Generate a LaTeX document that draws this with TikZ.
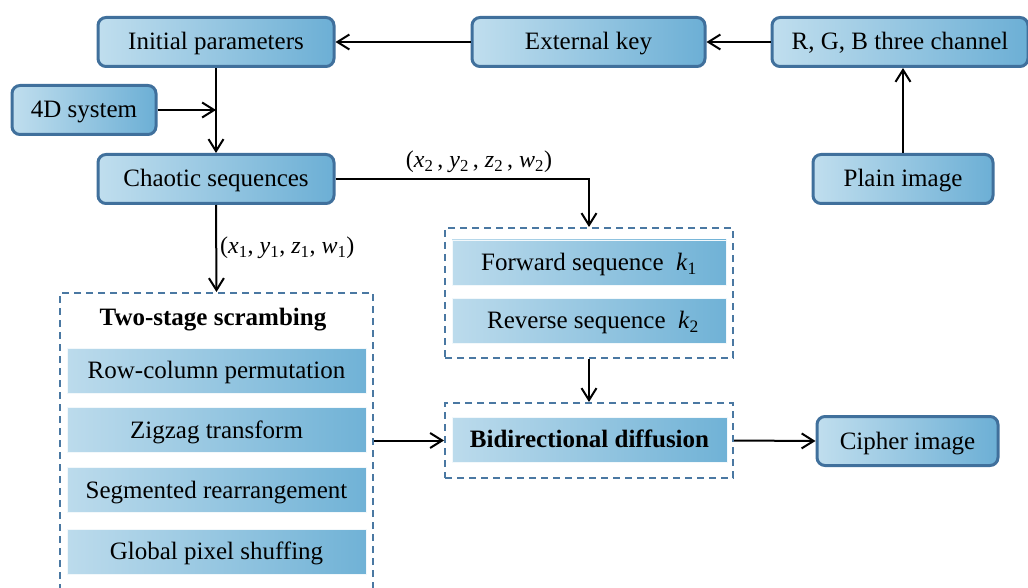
\documentclass[tikz,border=0pt]{standalone}
\usepackage{fontspec}
\setmainfont{Liberation Serif}
\usetikzlibrary{arrows.meta}
\definecolor{blkleft}{RGB}{192,222,238}
\definecolor{blkright}{RGB}{108,175,213}
\definecolor{blkdraw}{RGB}{64,112,156}
\definecolor{stgleft}{RGB}{188,219,236}
\definecolor{stgright}{RGB}{112,178,214}
\definecolor{grpdraw}{RGB}{74,120,162}
\newcommand{\vsub}[2]{\textit{#1}\textsubscript{#2}}

\begin{document}
\begin{tikzpicture}[
  x=1pt, y=-1pt,
  font=\fontsize{25}{29}\selectfont,
  blk/.style={rectangle, rounded corners=8pt, draw=blkdraw, line width=3pt,
              left color=blkleft, right color=blkright, inner sep=0pt,
              minimum height=49pt, text height=18pt, text depth=2pt},
  stage/.style={rectangle, draw=white!80!stgleft, line width=0.8pt,
                left color=stgleft, right color=stgright, inner sep=0pt,
                minimum height=45pt, text height=18pt, text depth=2pt},
  grp/.style={rectangle, draw=grpdraw, dash pattern=on 7pt off 5pt,
              line width=2pt, inner sep=0pt},
  flow/.style={-{Straight Barb[length=12pt,width=15pt,line width=2pt]}, line width=2pt},
  lbl/.style={inner sep=0pt, font=\fontsize{24}{27}\selectfont}
]
\useasboundingbox (0,0) rectangle (1028,588);
% key and chaos blocks
\node[blk, minimum width=236pt] (init)   at (216,42)    {Initial parameters};
\node[blk, minimum width=233pt] (extkey) at (588.5,42)  {External key};
\node[blk, minimum width=256pt] (rgb)    at (900,42)    {R, G, B three channel};
\node[blk, minimum width=144pt] (fourd)  at (84,110)    {4D system};
\node[blk, minimum width=236pt] (chaos)  at (216,179)   {Chaotic sequences};
\node[blk, minimum width=180pt] (plain)  at (903,179)   {Plain image};
\node[blk, minimum width=181pt] (cipher) at (907.5,441) {Cipher image};
% dashed groups
\node[grp, minimum width=313pt, minimum height=307pt] (scram) at (216.5,446.5) {};
\node[grp, minimum width=288pt, minimum height=130pt] (seqs)  at (589,293)     {};
\node[grp, minimum width=288pt, minimum height=75pt]  (diff)  at (589,440.5)   {};
% scrambling stages
\node[text height=18pt, text depth=2pt] (scramttl) at (213,317) {\textbf{Two-stage scrambing}};
\node[stage, minimum width=299pt] (rowcol) at (216.5,370.5) {Row-column permutation};
\node[stage, minimum width=299pt] (zigzag) at (216.5,430)   {Zigzag transform};
\node[stage, minimum width=299pt] (segre)  at (216.5,490)   {Segmented rearrangement};
\node[stage, minimum width=299pt] (glob)   at (216.5,551.5) {Global pixel shuffing};
% diffusion parts
\node[stage, minimum width=274pt] (fwd)   at (589,262.5) {Forward sequence\enspace\vsub{k}{1}};
\node[stage, minimum width=274pt] (rev)   at (589,320.5) {\hspace{8pt}Reverse sequence\enspace\vsub{k}{2}};
\node[stage, minimum width=275pt] (bidir) at (589.5,439.5) {\textbf{Bidirectional diffusion}};
% connectors
\draw[flow] (rgb.west) -- (extkey.east);
\draw[flow] (extkey.west) -- (init.east);
\draw[flow] (plain.north) -- (plain.north |- rgb.south);
\draw[flow] (init.south) -- (chaos.north);
\coordinate (join) at (fourd.east -| init.south);
\draw[flow] (fourd.east) -- (join);
\draw[flow] (chaos.east) -| (seqs.north);
\draw[flow] (chaos.south) -- (scram.north);
\draw[flow] (seqs.south) -- (diff.north);
\draw[flow] (diff.west -| scram.east) -- (diff.west);
\draw[flow] (diff.east) -- (cipher.west);
% sequence labels
\node[lbl] (lbltwo) at (479,162)
  {(\vsub{x}{2}\,, \vsub{y}{2}\,, \vsub{z}{2}\,, \vsub{w}{2})};
\node[lbl, anchor=west] (lblone) at (220,248)
  {(\vsub{x}{1}, \vsub{y}{1}, \vsub{z}{1}, \vsub{w}{1})};
\end{tikzpicture}
\end{document}
